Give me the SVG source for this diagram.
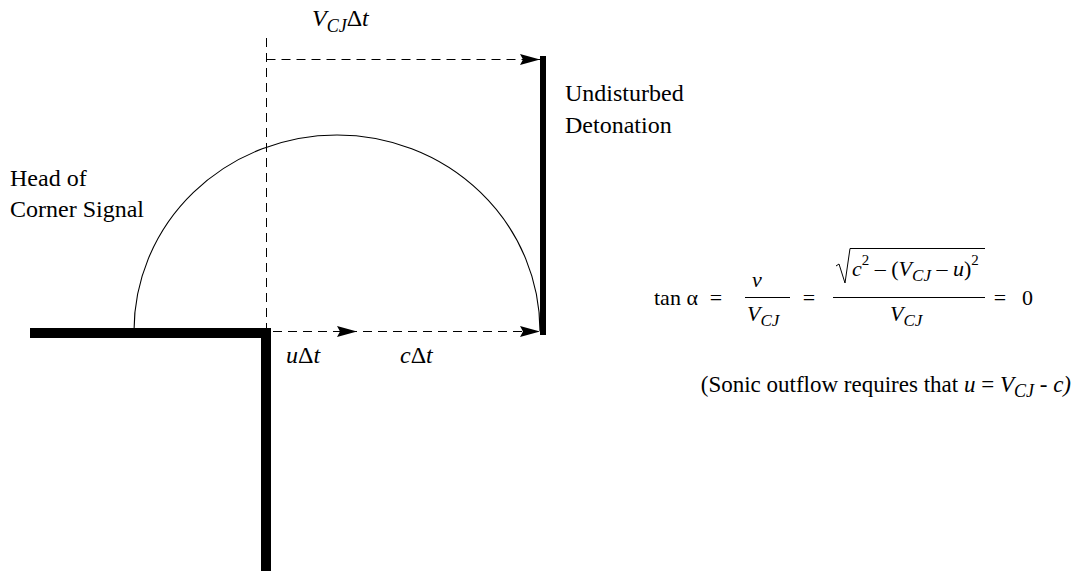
<svg xmlns="http://www.w3.org/2000/svg" width="1078" height="571" viewBox="0 0 1078 571">
<defs>
<style>
.t{font-family:"Liberation Serif","Times New Roman",serif;fill:#000}
.lbl{font-size:24px}
.f{font-size:22px}
.i{font-style:italic}
.dash{stroke:#000;stroke-width:1;stroke-dasharray:9 6;fill:none}
.wall{fill:#000}
</style>
<marker id="ah" viewBox="0 0 20 11" refX="20" refY="5.5" markerWidth="20" markerHeight="11" markerUnits="userSpaceOnUse" orient="auto">
<path d="M0,0 L20,5.5 L0,11 L3,5.5 Z" fill="#000"/>
</marker>
</defs>
<rect width="1078" height="571" fill="#fff"/>
<g id="walls">
<rect class="wall" x="30" y="328" width="241" height="10"/>
<rect class="wall" x="261" y="328" width="10" height="243"/>
<rect class="wall" x="540" y="56" width="6" height="279"/>
</g>
<g id="connectors">
<path class="dash" d="M266.5,38 L266.5,328"/>
<path class="dash" d="M266.5,59.5 L540,59.5" marker-end="url(#ah)"/>
<path class="dash" d="M273,331.5 L357,331.5" marker-end="url(#ah)"/>
<path class="dash" d="M363,331.5 L540,331.5" marker-end="url(#ah)"/>
<path d="M134,331 A203,196 0 0 1 540,331" fill="none" stroke="#000" stroke-width="1.1"/>
</g>
<g id="labels">
<text class="t lbl" x="312" y="26"><tspan class="i">V</tspan><tspan class="i" font-size="18" dy="6">CJ</tspan><tspan dy="-6">Δ</tspan><tspan class="i">t</tspan></text>
<text class="t lbl" x="565" y="101">Undisturbed</text>
<text class="t lbl" x="565" y="133">Detonation</text>
<text class="t lbl" x="10" y="186">Head of</text>
<text class="t lbl" x="10" y="217">Corner Signal</text>
<text class="t lbl" x="286" y="363"><tspan class="i">u</tspan>Δ<tspan class="i">t</tspan></text>
<text class="t lbl" x="400" y="363"><tspan class="i">c</tspan>Δ<tspan class="i">t</tspan></text>
<text class="t" font-size="23" x="1071" y="392" text-anchor="end">(Sonic outflow requires that <tspan class="i">u</tspan> = <tspan class="i">V</tspan><tspan class="i" font-size="18" dy="5">CJ</tspan><tspan dy="-5"> - </tspan><tspan class="i">c)</tspan></text>
</g>
<g id="formula">
<text class="t f" x="654" y="305">tan α</text>
<text class="t f" x="716" y="305" text-anchor="middle">=</text>
<text class="t f i" x="757" y="287" text-anchor="middle">v</text>
<line x1="745" y1="297.5" x2="790" y2="297.5" stroke="#000" stroke-width="1"/>
<text class="t f" x="747" y="321"><tspan class="i">V</tspan><tspan class="i" font-size="17" dy="5">CJ</tspan></text>
<text class="t f" x="809" y="305" text-anchor="middle">=</text>
<path d="M836,266 L839,264 L845,283 L850,248.5 L985,248.5" fill="none" stroke="#000" stroke-width="1"/>
<text class="t f" x="852" y="276"><tspan class="i">c</tspan><tspan font-size="15" dy="-11">2</tspan><tspan dy="11"> – (</tspan><tspan class="i">V</tspan><tspan class="i" font-size="17" dy="5">CJ</tspan><tspan dy="-5"> – </tspan><tspan class="i">u</tspan>)<tspan font-size="15" dy="-11">2</tspan></text>
<line x1="833" y1="297.5" x2="985" y2="297.5" stroke="#000" stroke-width="1"/>
<text class="t f" x="890" y="321"><tspan class="i">V</tspan><tspan class="i" font-size="17" dy="5">CJ</tspan></text>
<text class="t f" x="1000" y="305" text-anchor="middle">=</text>
<text class="t f" x="1022" y="305">0</text>
</g>
</svg>
